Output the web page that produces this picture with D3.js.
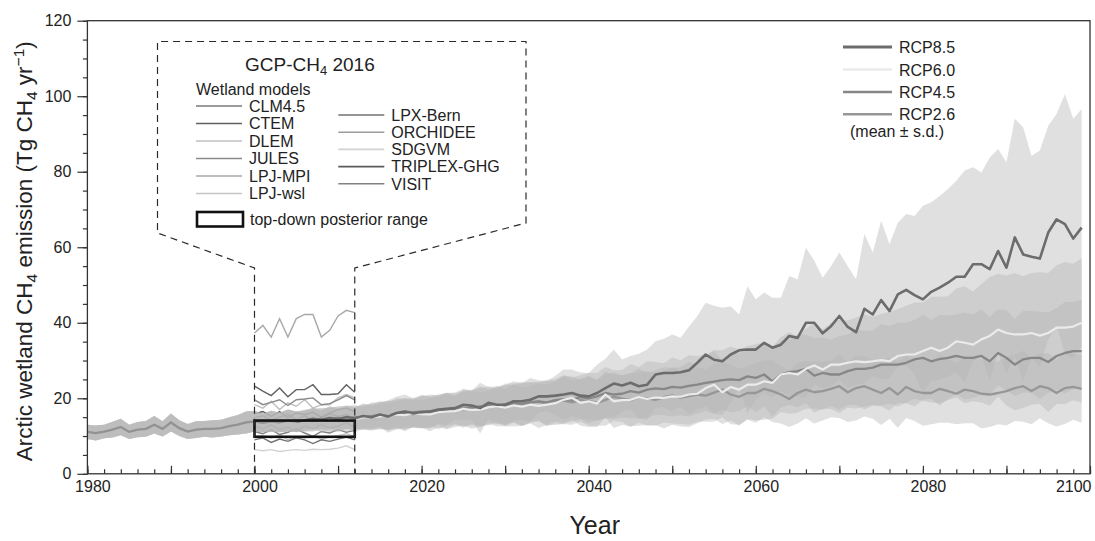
<!DOCTYPE html>
<html>
<head>
<meta charset="utf-8">
<script src="https://cdn.jsdelivr.net/npm/d3@7"></script>
<style>
  body { margin: 0; background: #fff; }
  svg { display: block; }
  text { font-family: "Liberation Sans", Arial, Helvetica, sans-serif; fill: #222; }
</style>
</head>
<body>
<svg id="chart" width="1095" height="541"></svg>
<script>
// ---------- data ----------
// Historical simulation (shared by all scenarios), 1980-2005, Tg CH4 / yr
const histStart = 1980;
const histMean = [11.1, 10.8, 11.2, 11.7, 12.4, 11.1, 11.7, 11.9, 13.0, 11.9, 13.6, 12.1, 11.2,
  11.7, 11.9, 11.9, 12.1, 12.6, 13.0, 13.6, 13.9, 13.5, 13.9, 13.6, 14.1, 13.8];
const histSd = [1.9, 2.0, 1.8, 2.1, 2.2, 1.9, 2.0, 2.1, 2.3, 2.0, 2.4, 2.1, 2.0,
  2.2, 2.1, 2.3, 2.2, 2.4, 2.6, 2.9, 2.7, 2.5, 2.8, 2.6, 2.9, 2.7];

// Scenario projections, 2006-2099 (ensemble mean and standard deviation)
const rcpStart = 2006;
const rcpNames = ["RCP8.5", "RCP6.0", "RCP4.5", "RCP2.6"];

const rcp85Mean = [14.2, 14.6, 14.3, 14.8, 14.5, 15.0, 14.7, 15.3, 15.0,
  15.7, 15.2, 16.1, 16.5, 16.1, 16.3, 16.5, 17.0, 17.2, 17.4, 18.3, 18.1, 17.4, 18.8, 18.3,
  18.3, 19.2, 19.2, 19.6, 20.5, 20.5, 20.7, 21.0, 21.4, 20.7, 20.5, 21.4, 22.7, 23.9, 23.4,
  24.1, 23.2, 23.6, 26.3, 26.7, 26.7, 26.9, 27.4,
  29.4, 31.6, 30.2, 29.8, 31.6, 32.7, 32.9, 32.9, 34.7, 33.4, 34.2, 36.5, 36.0, 40.0, 40.0,
  37.2, 39.1, 41.8, 38.9, 37.5, 43.7, 42.2, 46.0, 43.1, 47.5, 48.7, 47.3, 46.2, 48.2, 49.3,
  50.6, 52.2, 52.2, 55.5, 55.5, 54.2, 59.0, 54.6, 62.6, 58.1, 57.5, 57.0, 63.9, 67.4, 66.1,
  62.3, 65.2];
const rcp85Sd = [2.5, 2.8, 2.6, 3.0, 2.7, 3.1, 2.9, 3.2, 3.0,
  3.2, 4.3, 4.4, 4.5, 3.9, 4.2, 4.5, 3.8, 4.3, 3.1, 4.0, 3.9, 6.7, 4.2, 4.9, 5.2, 5.3, 4.8,
  5.8, 4.3, 4.0, 5.3, 6.6, 6.2, 6.1, 6.2, 7.5, 7.8, 9.0, 6.9, 7.1, 8.6, 9.3, 8.8, 9.1, 10.2,
  9.1, 11.6,
  12.4, 13.7, 14.3, 14.2, 12.8, 9.5, 16.8, 13.3, 13.3, 13.2, 12.4, 15.9, 15.5, 19.9, 16.4,
  14.7, 15.9, 16.8, 16.1, 14.0, 19.8, 16.4, 21.0, 17.7, 19.0, 20.1, 21.0, 24.8, 23.7, 24.3,
  24.8, 25.4, 28.1, 25.7, 24.3, 29.6, 27.0, 27.9, 31.4, 33.7, 26.7, 28.6, 28.3, 27.9, 34.5,
  31.7, 31.4];

const rcp60Mean = [14.0, 14.4, 14.1, 14.6, 14.3, 14.7, 14.5, 14.9, 15.0,
  15.2, 15.4, 15.7, 15.5, 16.1, 15.8, 15.7, 16.3, 16.5, 16.6, 17.2, 16.9, 17.0, 17.6, 17.9,
  17.5, 18.1, 17.8, 18.3, 18.0, 18.3, 18.7, 19.6, 20.1, 18.8, 19.2, 18.6, 21.0, 19.2, 19.5,
  19.6, 20.3, 19.8, 20.2, 20.1, 20.5, 20.4, 21.0,
  21.2, 22.7, 23.6, 21.6, 23.0, 22.3, 23.6, 23.6, 24.5, 24.1, 26.3, 26.7, 26.3, 27.8, 28.7,
  27.6, 28.9, 28.9, 29.4, 29.8, 29.6, 29.8, 30.1, 29.8, 31.2, 31.6, 31.6, 32.5, 33.4, 32.5,
  33.4, 35.1, 34.7, 34.2, 35.6, 36.5, 38.2, 37.3, 36.9, 36.9, 37.3, 36.6, 37.3, 38.7, 38.7,
  39.0, 40.0];
const rcp60Sd = [2.7, 3.1, 2.6, 3.3, 3.0, 2.8, 3.4, 3.1, 3.6,
  3.3, 3.9, 3.5, 4.2, 3.7, 3.6, 4.4, 4.0, 4.7, 4.2, 4.5, 5.0, 4.6, 4.4, 5.3, 4.9, 5.6, 5.1,
  5.0, 5.9, 5.4, 5.8, 6.4, 5.7, 6.1, 6.8, 6.2, 6.0, 7.1, 6.6, 7.0, 7.6, 6.9, 7.3, 8.1, 7.5,
  7.9, 8.6,
  7.8, 8.3, 9.0, 8.4, 8.9, 9.6, 9.1, 9.4, 10.2, 9.5, 9.9, 10.8, 10.1, 10.6, 11.4, 10.7,
  11.0, 11.9, 11.2, 11.6, 12.6, 11.8, 12.2, 13.1, 12.4, 12.9, 13.8, 12.9, 13.5, 14.4, 13.6,
  14.0, 15.0, 14.1, 14.7, 15.6, 14.8, 15.2, 16.3, 15.4, 15.9, 16.8, 15.9, 16.5, 17.4, 16.6,
  17.1];

const rcp45Mean = [14.1, 14.5, 14.2, 14.7, 14.4, 14.9, 14.6, 15.1, 15.0,
  15.5, 15.3, 15.9, 16.2, 15.8, 16.4, 16.6, 16.4, 17.1, 17.3, 17.0, 17.8, 17.5, 18.3, 17.9,
  18.4, 18.8, 18.5, 19.0, 19.2, 18.9, 19.5, 19.8, 19.6, 20.3, 20.0, 20.5, 21.4, 21.0, 21.2,
  21.9, 21.5, 22.3, 22.6, 22.4, 23.0, 22.8, 23.3,
  23.6, 24.1, 24.4, 24.8, 25.0, 24.8, 25.8, 25.4, 26.3, 24.5, 26.3, 26.9, 27.2, 27.8, 26.0,
  26.7, 26.3, 26.3, 27.2, 27.8, 27.8, 28.1, 28.9, 28.9, 28.9, 29.4, 30.3, 30.7, 29.8, 30.4,
  30.7, 31.2, 30.7, 30.7, 31.2, 29.8, 32.0, 30.7, 28.9, 30.3, 30.7, 30.7, 29.6, 31.2, 32.0,
  32.5, 32.5];
const rcp45Sd = [2.9, 2.6, 3.2, 2.8, 3.4, 3.1, 2.9, 3.5, 3.3,
  3.8, 3.4, 4.1, 3.8, 3.6, 4.4, 4.0, 4.6, 4.3, 4.1, 4.9, 4.5, 5.2, 4.8, 4.7, 5.5, 5.1, 5.8,
  5.3, 5.2, 6.0, 5.6, 6.3, 5.9, 5.8, 6.7, 6.2, 6.9, 6.4, 6.3, 7.2, 6.8, 7.5, 7.0, 6.9, 7.8,
  7.3, 8.1,
  7.6, 7.4, 8.4, 7.9, 8.7, 8.2, 8.0, 9.0, 8.5, 9.3, 8.8, 8.6, 9.6, 9.1, 9.9, 9.4, 9.2, 10.2,
  9.7, 10.5, 10.0, 9.8, 10.8, 10.3, 11.1, 10.6, 10.4, 11.4, 10.9, 11.7, 11.2, 11.0, 12.0,
  11.5, 12.3, 11.8, 11.6, 12.6, 12.1, 12.9, 12.4, 12.2, 13.2, 12.7, 13.5, 13.0, 13.6];

const rcp26Mean = [14.0, 14.3, 14.6, 14.2, 14.8, 14.5, 15.0, 14.8, 15.3,
  15.6, 15.4, 16.0, 15.8, 16.3, 16.5, 16.2, 16.9, 16.7, 17.2, 17.6, 17.3, 17.9, 17.6, 18.2,
  18.0, 18.5, 18.3, 18.8, 19.1, 18.6, 19.0, 19.4, 18.9, 19.5, 19.3, 18.8, 19.6, 20.4, 19.9,
  19.5, 20.2, 20.0, 19.6, 20.3, 20.8, 20.2, 20.6,
  21.0, 20.7, 21.5, 22.3, 21.0, 20.4, 21.4, 21.4, 22.5, 21.9, 21.0, 19.8, 21.4, 22.3, 21.6,
  21.9, 22.5, 23.2, 21.6, 22.7, 23.2, 22.3, 21.4, 22.7, 21.0, 23.0, 21.9, 21.4, 21.4, 22.5,
  21.9, 21.2, 22.3, 21.9, 21.2, 21.0, 21.4, 21.9, 22.7, 23.2, 21.9, 23.2, 22.7, 21.4, 22.7,
  23.0, 22.5];
const rcp26Sd = [2.8, 3.1, 2.7, 3.3, 3.0, 3.5, 3.2, 2.9, 3.6,
  3.4, 3.9, 3.6, 4.2, 3.8, 4.4, 4.1, 3.9, 4.7, 4.3, 4.9, 4.6, 5.2, 4.8, 4.5, 5.4, 5.0, 5.7,
  5.3, 5.1, 6.0, 5.6, 6.3, 5.9, 5.7, 6.5, 6.1, 6.9, 6.4, 6.2, 7.1, 6.6, 7.3, 6.9, 6.7, 7.5,
  7.0, 7.6,
  7.2, 6.9, 7.7, 7.3, 7.9, 7.4, 7.1, 7.9, 7.5, 8.2, 7.7, 7.4, 8.1, 7.6, 8.3, 7.8, 7.5, 8.4,
  7.9, 8.6, 8.0, 7.7, 8.5, 8.1, 8.8, 8.2, 7.9, 8.7, 8.3, 9.0, 8.4, 8.1, 8.9, 8.5, 9.2, 8.6,
  8.3, 9.1, 8.7, 9.4, 8.8, 8.5, 9.3, 8.9, 9.5, 8.7, 9.0];

// GCP-CH4 2016 bottom-up wetland models, 2000-2012
const modelStart = 2000;
const modelNames = ["CLM4.5", "CTEM", "DLEM", "JULES", "LPJ-MPI", "LPJ-wsl",
  "LPX-Bern", "ORCHIDEE", "SDGVM", "TRIPLEX-GHG", "VISIT"];
const modelSeries = [
  [14.8, 15.4, 14.2, 15.0, 15.7, 14.3, 15.4, 13.9, 14.8, 15.9, 15.2, 15.7, 14.5],
  [23.2, 21.9, 20.7, 22.7, 20.4, 22.3, 22.3, 23.6, 21.0, 21.0, 21.2, 23.6, 21.6],
  [18.3, 17.4, 19.2, 17.0, 18.8, 17.9, 19.6, 17.4, 18.3, 18.3, 20.1, 21.0, 20.1],
  [19.6, 18.3, 18.9, 19.6, 18.1, 19.6, 19.8, 20.1, 18.3, 18.6, 19.6, 20.7, 19.6],
  [37.3, 39.3, 36.2, 41.1, 36.2, 41.1, 42.2, 42.2, 36.2, 38.0, 41.8, 43.3, 42.7],
  [9.9, 10.1, 9.5, 10.4, 9.0, 9.9, 9.5, 10.1, 9.2, 9.7, 10.1, 10.6, 9.9],
  [9.0, 9.5, 8.3, 9.2, 8.6, 9.5, 9.0, 8.0, 9.0, 8.6, 9.2, 9.7, 9.0],
  [12.6, 11.9, 13.0, 11.7, 12.4, 11.2, 12.6, 11.9, 13.0, 12.1, 12.6, 13.5, 12.4],
  [6.4, 6.1, 6.4, 5.9, 6.2, 6.4, 6.2, 6.5, 6.4, 6.5, 6.8, 7.4, 6.4],
  [15.9, 16.5, 15.2, 16.5, 14.8, 16.1, 15.7, 16.3, 15.0, 16.1, 17.0, 17.4, 16.5],
  [11.2, 10.6, 11.7, 10.4, 11.0, 11.9, 10.8, 9.9, 11.2, 10.8, 11.7, 11.0, 11.5]
];

// Top-down (inversion) posterior range, 2000-2012
const topDownYears = [2000, 2012];
const topDownRange = [9.8, 14.1];

// Axis ticks
const xLabelTicks = [1980, 2000, 2020, 2040, 2060, 2080, 2100];
const yLabelTicks = [0, 20, 40, 60, 80, 100, 120];

// ---------- styles ----------
const rcpLineColor = { "RCP8.5": "#6c6c6c", "RCP6.0": "#ebebeb", "RCP4.5": "#878787", "RCP2.6": "#979797" };
const rcpLineWidth = { "RCP8.5": 2.6, "RCP6.0": 2.2, "RCP4.5": 2.3, "RCP2.6": 2.3 };
const modelColors = ["#7a7a7a", "#626262", "#c0c0c0", "#8a8a8a", "#a8a8a8", "#c6c6c6",
  "#727272", "#9c9c9c", "#d2d2d2", "#5a5a5a", "#828282"];

// ---------- layout ----------
const svg = d3.select("#chart");
const X0 = 87.4, X1 = 1090, Y0 = 473.8, Y1 = 20.7;
const x = d3.scaleLinear().domain([1980, 2100]).range([X0, X1]);
const y = d3.scaleLinear().domain([0, 120]).range([Y0, Y1]);

svg.append("defs").append("clipPath").attr("id", "plotClip")
  .append("rect").attr("x", X0).attr("y", Y1).attr("width", X1 - X0).attr("height", Y0 - Y1);

const plot = svg.append("g").attr("clip-path", "url(#plotClip)");

// build scenario records: shared history + projection
const rcpMeans = [rcp85Mean, rcp60Mean, rcp45Mean, rcp26Mean];
const rcpSds = [rcp85Sd, rcp60Sd, rcp45Sd, rcp26Sd];
const scenarios = rcpNames.map((name, k) => {
  const pts = [];
  histMean.forEach((m, i) => pts.push({ year: histStart + i, mean: m, sd: histSd[i] }));
  rcpMeans[k].forEach((m, i) => pts.push({ year: rcpStart + i, mean: m, sd: rcpSds[k][i] }));
  return { name, pts };
});

// wetland model lines (drawn beneath the ensemble shading)
const line = d3.line().x(d => x(d.year)).y(d => y(d.v));
modelSeries.forEach((vals, k) => {
  plot.append("path")
    .datum(vals.map((v, i) => ({ year: modelStart + i, v })))
    .attr("d", line)
    .attr("fill", "none")
    .attr("stroke", modelColors[k])
    .attr("stroke-width", 1.4);
});

// mean ± s.d. envelopes
const area = d3.area()
  .x(d => x(d.year))
  .y0(d => y(Math.max(0, d.mean - d.sd)))
  .y1(d => y(d.mean + d.sd));
scenarios.forEach(s => {
  plot.append("path")
    .datum(s.pts)
    .attr("d", area)
    .attr("fill", "#b4b4b4")
    .attr("fill-opacity", 0.42)
    .attr("stroke", "none");
});

// shared historical mean line
const meanLine = d3.line().x(d => x(d.year)).y(d => y(d.mean));
plot.append("path")
  .datum(histMean.map((m, i) => ({ year: histStart + i, mean: m })))
  .attr("d", meanLine)
  .attr("fill", "none")
  .attr("stroke", "#929292")
  .attr("stroke-width", 2.3);

// scenario mean lines (from the last historical year onwards)
["RCP2.6", "RCP4.5", "RCP6.0", "RCP8.5"].forEach(name => {
  const s = scenarios.find(d => d.name === name);
  const lastHist = histStart + histMean.length - 1;
  plot.append("path")
    .datum(s.pts.filter(d => d.year >= lastHist))
    .attr("d", meanLine)
    .attr("fill", "none")
    .attr("stroke", rcpLineColor[name])
    .attr("stroke-width", rcpLineWidth[name])
    .attr("stroke-linejoin", "round");
});

// top-down posterior range box
svg.append("rect")
  .attr("x", x(topDownYears[0]))
  .attr("y", y(topDownRange[1]))
  .attr("width", x(topDownYears[1]) - x(topDownYears[0]))
  .attr("height", y(topDownRange[0]) - y(topDownRange[1]))
  .attr("fill", "none")
  .attr("stroke", "#111")
  .attr("stroke-width", 2.6);

// dashed call-out connecting the 2000-2012 window to the model legend
const calloutTop = 54.5;
const box = { left: 157.5, right: 526, top: 41.5, leftBottom: 233, rightBottom: 223 };
const callout = d3.path();
callout.moveTo(x(topDownYears[0]), Y0);
callout.lineTo(x(topDownYears[0]), y(calloutTop));
callout.lineTo(box.left, box.leftBottom);
callout.lineTo(box.left, box.top);
callout.lineTo(box.right, box.top);
callout.lineTo(box.right, box.rightBottom);
callout.lineTo(x(topDownYears[1]), y(calloutTop));
callout.lineTo(x(topDownYears[1]), Y0);
svg.append("path")
  .attr("d", callout.toString())
  .attr("fill", "none")
  .attr("stroke", "#2a2a2a")
  .attr("stroke-width", 1.2)
  .attr("stroke-dasharray", "7,5");

// ---------- axes ----------
const axisColor = "#333";
function styleAxis(g) {
  g.select(".domain").remove();
  g.selectAll(".tick line").attr("stroke", axisColor).attr("stroke-width", 1.2);
}

// x axis: minor every 2 years, major every 10, labels every 20
svg.append("g").attr("transform", `translate(0,${Y0})`)
  .call(d3.axisBottom(x).tickValues(d3.range(1980, 2101, 2)).tickSize(-4.5).tickSizeOuter(0).tickFormat(""))
  .call(styleAxis);
const xMajor = svg.append("g").attr("transform", `translate(0,${Y0})`)
  .call(d3.axisBottom(x).tickValues(d3.range(1980, 2101, 10)).tickSize(-8).tickSizeOuter(0)
    .tickPadding(7).tickFormat(d => xLabelTicks.includes(d) ? d : ""))
  .call(styleAxis);
xMajor.selectAll(".tick text")
  .attr("font-size", 16)
  .attr("font-family", null)
  .attr("fill", "#222")
  .attr("dx", 5);
xMajor.selectAll(".tick text").filter(d => d === 2100)
  .attr("text-anchor", "end").attr("dx", 1);

// y axis: minor every 5, labels every 20
svg.append("g").attr("transform", `translate(${X0},0)`)
  .call(d3.axisLeft(y).tickValues(d3.range(0, 121, 5)).tickSize(4.5).tickSizeOuter(0).tickFormat(""))
  .call(styleAxis);
const yMajor = svg.append("g").attr("transform", `translate(${X0},0)`)
  .call(d3.axisLeft(y).tickValues(yLabelTicks).tickSize(10).tickSizeOuter(0).tickPadding(6))
  .call(styleAxis);
yMajor.selectAll(".tick text")
  .attr("font-size", 16)
  .attr("font-family", null)
  .attr("fill", "#222");

// plot frame
svg.append("rect")
  .attr("x", X0).attr("y", Y1).attr("width", X1 - X0).attr("height", Y0 - Y1)
  .attr("fill", "none").attr("stroke", axisColor).attr("stroke-width", 1.3);

// axis titles
svg.append("text")
  .attr("x", (X0 + X1) / 2 + 6).attr("y", 534)
  .attr("text-anchor", "middle")
  .attr("font-size", 25)
  .text("Year");

const yTitle = svg.append("text")
  .attr("transform", `translate(32,${(Y0 + Y1) / 2 + 4}) rotate(-90)`)
  .attr("text-anchor", "middle")
  .attr("font-size", 22.5);
yTitle.append("tspan").text("Arctic wetland CH");
yTitle.append("tspan").attr("font-size", 15.5).attr("dy", 5).text("4");
yTitle.append("tspan").attr("dy", -5).text(" emission (Tg CH");
yTitle.append("tspan").attr("font-size", 15.5).attr("dy", 5).text("4");
yTitle.append("tspan").attr("dy", -5).text(" yr");
yTitle.append("tspan").attr("font-size", 15.5).attr("dy", -8).text("\u22121");
yTitle.append("tspan").attr("dy", 8).text(")");

// ---------- scenario legend ----------
const rcpLegend = svg.append("g");
const rcpRowY = [47, 69.5, 92, 114.3];
rcpNames.forEach((name, i) => {
  rcpLegend.append("line")
    .attr("x1", 843).attr("x2", 892)
    .attr("y1", rcpRowY[i]).attr("y2", rcpRowY[i])
    .attr("stroke", rcpLineColor[name])
    .attr("stroke-width", name === "RCP8.5" ? 3 : 2.4);
  rcpLegend.append("text")
    .attr("x", 899).attr("y", rcpRowY[i] + 6)
    .attr("font-size", 16)
    .text(name);
});
rcpLegend.append("text")
  .attr("x", 850).attr("y", 136.5)
  .attr("font-size", 16)
  .text("(mean \u00b1 s.d.)");

// ---------- wetland model legend ----------
const mLegend = svg.append("g");
const title = mLegend.append("text").attr("x", 245).attr("y", 70.5).attr("font-size", 19);
title.append("tspan").text("GCP-CH");
title.append("tspan").attr("font-size", 13).attr("dy", 4).text("4");
title.append("tspan").attr("dy", -4).text(" 2016");

mLegend.append("text").attr("x", 196).attr("y", 94.5).attr("font-size", 16).text("Wetland models");

const leftRows = [106, 123.5, 141, 158.5, 176, 193.5];
const rightRows = [115, 132.2, 149.4, 166.6, 183.8];
modelNames.forEach((name, k) => {
  const left = k < 6;
  const cy = left ? leftRows[k] : rightRows[k - 6];
  const lx = left ? 196 : 338.3;
  mLegend.append("line")
    .attr("x1", lx).attr("x2", lx + 46)
    .attr("y1", cy).attr("y2", cy)
    .attr("stroke", modelColors[k])
    .attr("stroke-width", 1.6);
  mLegend.append("text")
    .attr("x", lx + 53).attr("y", cy + 5.8)
    .attr("font-size", 16)
    .text(name);
});

mLegend.append("rect")
  .attr("x", 197).attr("y", 212)
  .attr("width", 46).attr("height", 14.5)
  .attr("fill", "none").attr("stroke", "#111").attr("stroke-width", 2.6);
mLegend.append("text")
  .attr("x", 250).attr("y", 224.8)
  .attr("font-size", 16)
  .text("top-down posterior range");
</script>
</body>
</html>
